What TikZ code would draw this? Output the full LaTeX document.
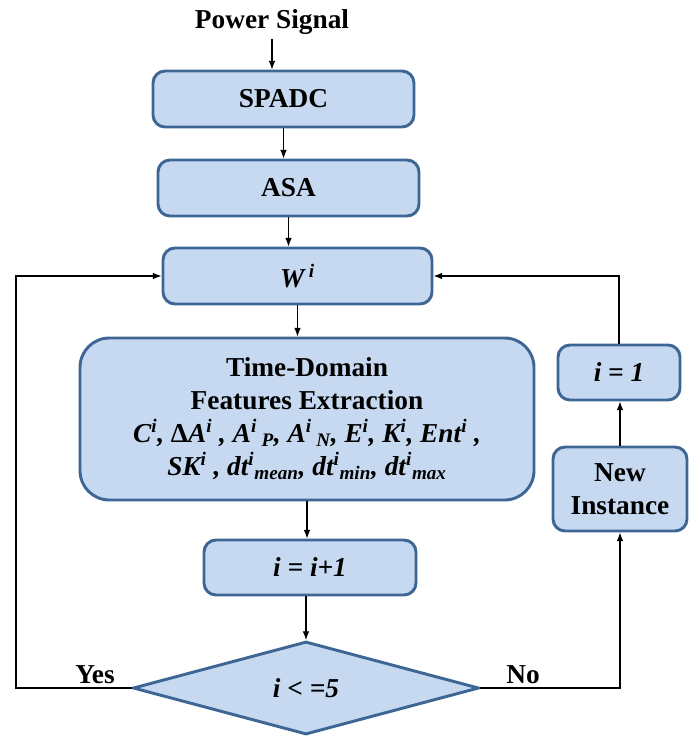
\documentclass[tikz,border=0pt]{standalone}
\usepackage{fontspec}
\setmainfont{Liberation Serif}
\usetikzlibrary{shapes.geometric,arrows.meta}
\definecolor{boxfill}{RGB}{198,217,241}
\definecolor{boxline}{RGB}{62,102,148}
\begin{document}
\begin{tikzpicture}[x=0.75pt,y=-0.75pt,
    font=\fontsize{20.5}{24.75}\selectfont\bfseries,
    blk/.style={draw=boxline,fill=boxfill,line width=2.2pt,rounded corners=9pt,
      align=center,inner sep=2pt},
    cond/.style={diamond,draw=boxline,fill=boxfill,line width=2.2pt,
      inner sep=0pt,aspect=3.7},
    arr/.style={-{Latex[length=6.5pt,width=5pt]},line width=0.9pt}]
  \useasboundingbox (0,0) rectangle (689,736);
  % main chain
  \node (sig) at (272,22) {Power Signal};
  \node[blk,minimum width=195.75pt,minimum height=42pt] (spadc) at (283.5,99) {SPADC};
  \node[blk,minimum width=195.75pt,minimum height=42pt] (asa) at (288.5,188) {ASA};
  \node[blk,minimum width=201.75pt,minimum height=42pt] (win) at (297.5,276)
    {\itshape W\,\textsuperscript{i}};
  \node[blk,rounded corners=22pt,minimum width=340.5pt,minimum height=121.5pt] (feat)
    at (307,419) {Time-Domain\\Features Extraction\\
    \itshape C\textsuperscript{i}, {\upshape Δ}A\textsuperscript{i} , A\textsuperscript{i}\,\textsubscript{P},
    A\textsuperscript{i}\,\textsubscript{N}, E\textsuperscript{i}, K\textsuperscript{i}, Ent\textsuperscript{i} ,\\
    \itshape SK\textsuperscript{i} , dt\textsuperscript{i}\textsubscript{mean},
    dt\textsuperscript{i}\textsubscript{min}, dt\textsuperscript{i}\textsubscript{max}};
  \node[blk,minimum width=159pt,minimum height=41.25pt] (inc) at (310,567.5) {\itshape i = i+1};
  \node[cond,minimum width=259.5pt,minimum height=69.75pt] (dec) at (306,688) {\itshape i < =5};
  % right branch
  \node[blk,minimum width=100.5pt,minimum height=63pt] (newi) at (620,489) {New\\Instance};
  \node[blk,minimum width=91.5pt,minimum height=41.25pt] (one) at (619,372.5) {\itshape i = 1};
  \node (yes) at (95,675) {Yes};
  \node (no) at (523,675) {No};
  \coordinate (lft) at (16,400);
  \draw[arr] (sig.south) -- (sig.south |- spadc.north);
  \draw[arr] (spadc.south) -- (spadc.south |- asa.north);
  \draw[arr] (asa.south) -- (asa.south |- win.north);
  \draw[arr] (win.south) -- (win.south |- feat.north);
  \draw[arr] (feat.south) -- (feat.south |- inc.north);
  \draw[arr] (dec.north |- inc.south) -- (dec.north);
  \draw[arr] (dec.west) -| (lft) |- (win.west);
  \draw[arr] (dec.east) -| (newi.south);
  \draw[arr] (newi.north) -- (newi.north |- one.south);
  \draw[arr] (one.north) |- (win.east);
\end{tikzpicture}
\end{document}
